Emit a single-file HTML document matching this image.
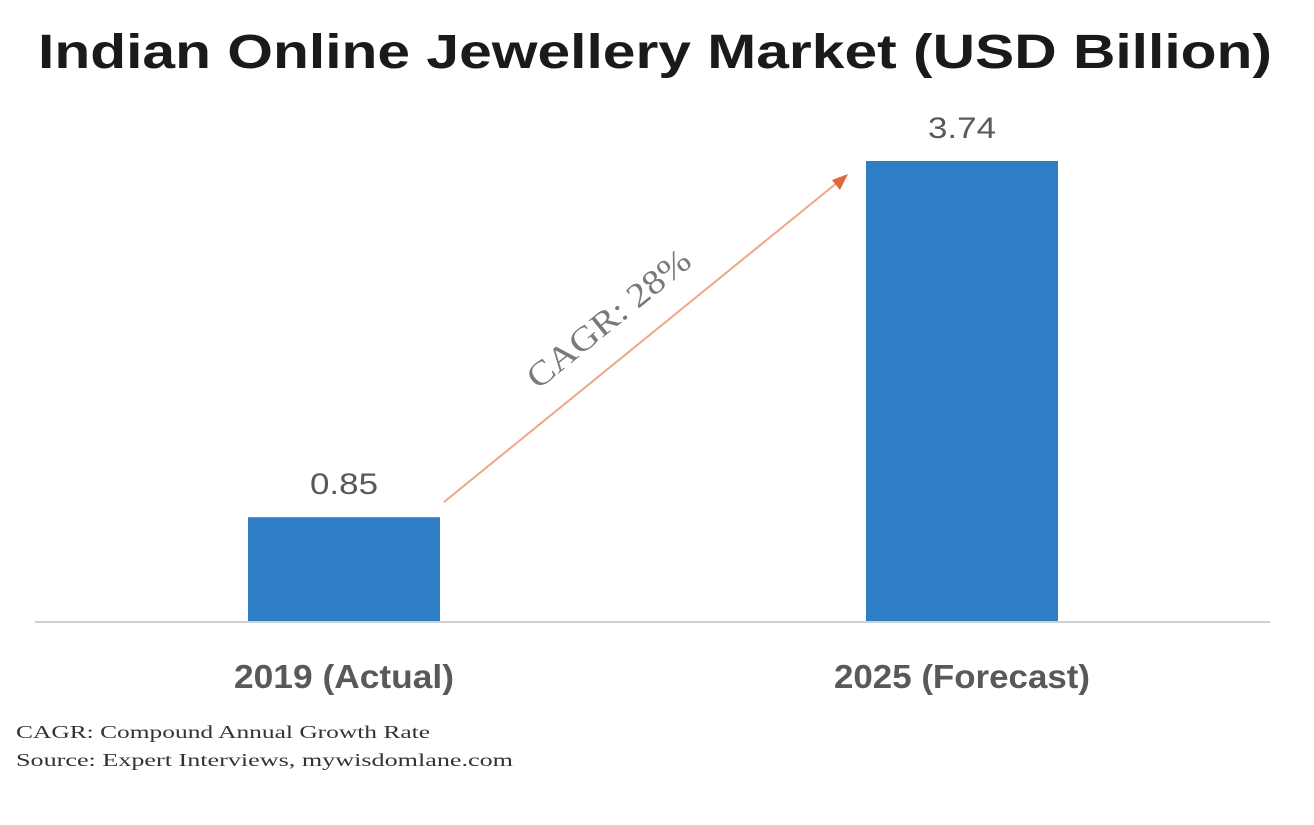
<!DOCTYPE html>
<html><head><meta charset="utf-8"><style>
body{margin:0;width:1314px;height:820px;background:#fff;overflow:hidden;font-family:"Liberation Sans",sans-serif}
</style></head><body>
<svg width="1314" height="820">
<text x="38" y="68" textLength="1234" lengthAdjust="spacingAndGlyphs" font-size="48" font-weight="bold" fill="#1a1a1a">Indian Online Jewellery Market (USD Billion)</text>
<g id="bars"></g>
<line x1="35" y1="622" x2="1270" y2="622" stroke="#d0d0d0" stroke-width="2"/>
<line x1="444" y1="502" x2="838" y2="182" stroke="#f0a585" stroke-width="2"/>
<polygon points="848,174 832,180 840,190" fill="#e0683a"/>
<text x="608" y="330" transform="rotate(-39 608 318)" text-anchor="middle" textLength="200" lengthAdjust="spacingAndGlyphs" font-family="Liberation Serif, serif" font-size="34" fill="#7a7a7a">CAGR: 28%</text>
<text x="16" y="738" textLength="414" lengthAdjust="spacingAndGlyphs" font-family="Liberation Serif, serif" font-size="18" fill="#333">CAGR: Compound Annual Growth Rate</text>
<text x="16" y="766" textLength="497" lengthAdjust="spacingAndGlyphs" font-family="Liberation Serif, serif" font-size="18" fill="#333">Source: Expert Interviews, mywisdomlane.com</text>
</svg>
<script>
const categories=["2019 (Actual)","2025 (Forecast)"];
const values=[0.85,3.74];
const labels=["0.85","3.74"];
const base=622, scale=(622-161)/3.74;
const y=v=>base-v*scale;
const xc=i=>344+i*618;
const catWidths=[220,256];
const g=document.getElementById('bars');
const ns="http://www.w3.org/2000/svg";
values.forEach((v,i)=>{
 const r=document.createElementNS(ns,'rect');
 r.setAttribute('x',xc(i)-96);r.setAttribute('y',y(v));r.setAttribute('width',192);r.setAttribute('height',base-y(v));r.setAttribute('fill','#2e7ec6');
 
 
 g.appendChild(r);
 const t=document.createElementNS(ns,'text');
 t.setAttribute('x',xc(i)-34);t.setAttribute('y',y(v)-23);t.setAttribute('font-size','30');t.setAttribute('fill','#595959');
 t.setAttribute('textLength','68');t.setAttribute('lengthAdjust','spacingAndGlyphs');
 t.textContent=labels[i];
 
 
 g.appendChild(t);
 const c=document.createElementNS(ns,'text');
 c.setAttribute('x',xc(i)-catWidths[i]/2);c.setAttribute('y',688);c.setAttribute('font-size','33');c.setAttribute('font-weight','bold');c.setAttribute('fill','#595959');
 c.setAttribute('textLength',catWidths[i]);c.setAttribute('lengthAdjust','spacingAndGlyphs');
 c.textContent=categories[i];
 
 
 g.appendChild(c);
});
</script>
</body></html>
